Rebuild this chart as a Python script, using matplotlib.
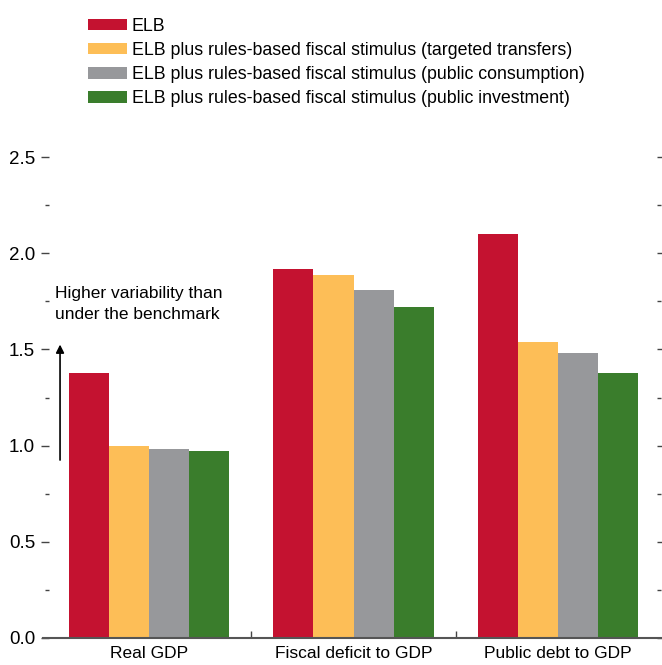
import matplotlib
matplotlib.use("Agg")
import matplotlib.pyplot as plt
import numpy as np
from matplotlib import font_manager

names = {f.name for f in font_manager.fontManager.ttflist}
narrow = "Liberation Sans Narrow" if "Liberation Sans Narrow" in names else "Liberation Sans"
plt.rcParams['font.family'] = [narrow, 'DejaVu Sans']

categories = ["Real GDP", "Fiscal deficit to GDP", "Public debt to GDP"]
series_names = [
    "ELB",
    "ELB plus rules-based fiscal stimulus (targeted transfers)",
    "ELB plus rules-based fiscal stimulus (public consumption)",
    "ELB plus rules-based fiscal stimulus (public investment)",
]
elb = [1.38, 1.92, 2.10]
transfers = [1.00, 1.89, 1.54]
consumption = [0.98, 1.81, 1.48]
investment = [0.97, 1.72, 1.38]
colors = ["#C41230", "#FDBE57", "#97989B", "#3A7D2C"]
yticks = [0.0, 0.5, 1.0, 1.5, 2.0, 2.5]
ytick_labels = ["0.0", "0.5", "1.0", "1.5", "2.0", "2.5"]
annotation = "Higher variability than\nunder the benchmark"

W, H = 662, 665
fig = plt.figure(figsize=(W / 100, H / 100), dpi=100)
ax = fig.add_axes([49 / W, 1 - 637.7 / H, (657 - 49) / W, (637.7 - 157.3) / H])

x = np.arange(len(categories))
width = 0.196
all_series = [elb, transfers, consumption, investment]
handles = []
for i, (vals, col, name) in enumerate(zip(all_series, colors, series_names)):
    b = ax.bar(x + (i - 1.5) * width, vals, width, color=col, label=name, linewidth=0)
    handles.append(b)

ax.set_xlim(-0.489, 2.484)
ax.set_ylim(0, 2.5)

for s in ["left", "right", "top", "bottom"]:
    ax.spines[s].set_visible(False)
ax.plot([-0.012, 1.012], [0, 0], transform=ax.transAxes, color="#555555", lw=1.5,
        clip_on=False, solid_capstyle="butt", zorder=5)

ax.set_yticks(yticks)
ax.set_yticklabels(ytick_labels)
ax.set_yticks(np.arange(0.25, 2.5, 0.5), minor=True)
ax.tick_params(axis="y", which="major", direction="out", length=6, width=1.0, color="#444444",
               labelsize=13.5, pad=4, left=True, right=True, labelright=False)
ax.tick_params(axis="y", which="minor", direction="out", length=3, width=1.0, color="#444444",
               left=True, right=True)
ax.set_xticks(x)
ax.set_xticklabels(categories)
ax.set_xticks([0.5, 1.5], minor=True)
ax.tick_params(axis="x", which="major", length=0, labelsize=12.5, pad=6)
ax.tick_params(axis="x", which="minor", direction="in", length=5, width=1.0, color="#444444")

ax.annotate("", xy=(-0.435, 1.54), xytext=(-0.435, 0.91),
            arrowprops=dict(arrowstyle="-|>", color="black", lw=1.2, mutation_scale=12))
ax.text(-0.462, 1.735, annotation, fontsize=12.5, va="center", ha="left", linespacing=1.5)

leg = fig.legend(handles=handles, labels=series_names, loc="upper left",
                 bbox_to_anchor=(88 / W, 1 - 18 / H), frameon=False, fontsize=12.8,
                 handlelength=2.2, handleheight=0.6, handletextpad=0.25, labelspacing=0.4,
                 borderaxespad=0, borderpad=0)

fig.savefig("out.png", dpi=100)
